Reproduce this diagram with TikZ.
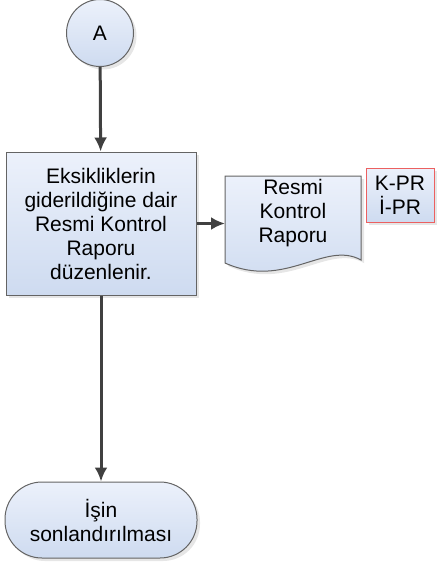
\documentclass[tikz,border=0pt]{standalone}
\usepackage{fontspec}
\setmainfont{Liberation Sans}
\usetikzlibrary{arrows.meta,shadows}
\definecolor{kenar}{RGB}{100,100,100}
\definecolor{okrenk}{RGB}{64,64,64}
\definecolor{ustrenk}{RGB}{236,241,251}
\definecolor{altrenk}{RGB}{206,219,240}
\definecolor{kirmizi}{RGB}{236,96,96}

\begin{document}
\begin{tikzpicture}[x=1pt,y=-1pt]
% Styles
\tikzstyle{ok}=[-{Latex[length=14pt,width=13pt]},line width=3pt,draw=okrenk]
\tikzstyle{dolgu}=[top color=ustrenk,bottom color=altrenk,draw=kenar,line width=1pt,drop shadow={shadow xshift=3pt,shadow yshift=-3pt,opacity=.2}]
\tikzstyle{metin}=[align=center,font=\fontsize{21}{24}\selectfont,inner sep=0pt]
\tikzstyle{daire}=[dolgu,metin,circle,minimum size=67pt]
\tikzstyle{islem}=[dolgu,metin,rectangle,minimum width=190pt,minimum height=143pt]
\tikzstyle{etiket}=[dolgu,metin,rectangle,draw=kirmizi,minimum width=68pt,minimum height=54pt]
\tikzstyle{bitis}=[dolgu,metin,rectangle,rounded corners=37pt,minimum width=192pt,minimum height=76pt]
\useasboundingbox (0,0) rectangle (436,567);
% Nodes
\node[daire] (A) at (100,33) {A};
\node[islem] (islem) at (101,223.5) {Eksikliklerin\\giderildiğine dair\\Resmi Kontrol\\Raporu\\düzenlenir.};
% Belge (document shape)
\draw[dolgu] (225,176) -- (361,176) -- (361,260)
  .. controls (325,240) and (285,290) .. (225,263) -- cycle;
\node[metin] (belge) at (293,213) {Resmi\\Kontrol\\Raporu};
\node[etiket] (kod) at (400,195) {K-PR\\İ-PR};
\node[bitis] (son) at (101,520) {İşin\\sonlandırılması};
% Arcs
\draw[ok] (A) -- (islem);
\draw[ok] (islem.east) -- (islem.east -| 225,0);
\draw[ok] (islem) -- (son);
\end{tikzpicture}
\end{document}
